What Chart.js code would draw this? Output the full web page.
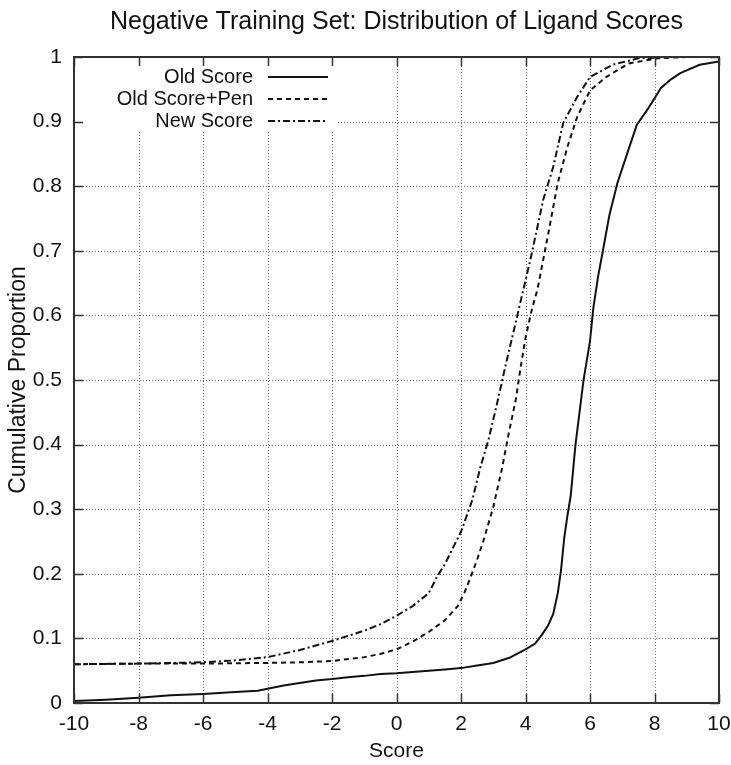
<!DOCTYPE html>
<html>
<head>
<meta charset="utf-8">
<script src="https://cdn.jsdelivr.net/npm/chart.js@4/dist/chart.umd.min.js"></script>
<style>
  html, body { margin: 0; padding: 0; background: #fff; }
  #wrap { width: 731px; height: 765px; position: relative; }
</style>
</head>
<body>
<div id="wrap"><canvas id="c" width="731" height="765"></canvas></div>
<script>
// ---- Data ----
const chartTitle = 'Negative Training Set: Distribution of Ligand Scores';
const xAxisTitle = 'Score';
const yAxisTitle = 'Cumulative Proportion';
const seriesNames = ['Old Score', 'Old Score+Pen', 'New Score'];

const xTickValues = [-10, -8, -6, -4, -2, 0, 2, 4, 6, 8, 10];
const xTickLabels = ['-10', '-8', '-6', '-4', '-2', '0', '2', '4', '6', '8', '10'];
const yTickValues = [0, 0.1, 0.2, 0.3, 0.4, 0.5, 0.6, 0.7, 0.8, 0.9, 1];
const yTickLabels = ['0', '0.1', '0.2', '0.3', '0.4', '0.5', '0.6', '0.7', '0.8', '0.9', '1'];

const oldScoreX = [-10, -9, -8, -7.5, -7, -6, -5, -4.3, -4, -3.5, -3, -2.5, -2, -1.5, -1, -0.5, 0, 0.5, 1, 1.5, 2, 2.5, 3, 3.5, 4, 4.3, 4.5, 4.7, 4.86, 5.0, 5.1, 5.2, 5.3, 5.4, 5.55, 5.7, 5.8, 6.0, 6.1, 6.25, 6.4, 6.6, 6.85, 7.15, 7.45, 7.8, 8.2, 8.5, 8.8, 9.4, 10];
const oldScoreY = [0.003, 0.005, 0.008, 0.010, 0.012, 0.014, 0.017, 0.019, 0.022, 0.027, 0.031, 0.035, 0.037, 0.040, 0.042, 0.045, 0.046, 0.048, 0.050, 0.052, 0.054, 0.058, 0.062, 0.070, 0.083, 0.092, 0.105, 0.120, 0.138, 0.170, 0.205, 0.255, 0.290, 0.320, 0.400, 0.460, 0.500, 0.560, 0.610, 0.660, 0.700, 0.755, 0.805, 0.850, 0.895, 0.920, 0.952, 0.965, 0.975, 0.988, 0.993];

const oldPenX = [-10, -8, -6, -4, -3, -2, -1, -0.5, 0, 0.5, 1, 1.5, 1.9, 2.1, 2.3, 2.5, 2.7, 3.0, 3.28, 3.47, 3.7, 3.85, 4.0, 4.2, 4.37, 4.67, 5.0, 5.3, 5.6, 6.0, 6.5, 7.2, 8.1, 9.0, 10];
const oldPenY = [0.060, 0.061, 0.061, 0.062, 0.063, 0.065, 0.071, 0.076, 0.083, 0.095, 0.110, 0.128, 0.150, 0.170, 0.195, 0.222, 0.252, 0.303, 0.365, 0.415, 0.470, 0.520, 0.565, 0.610, 0.640, 0.717, 0.805, 0.861, 0.907, 0.948, 0.969, 0.990, 0.998, 1.0, 1.0];

const newScoreX = [-10, -8, -6, -5, -4, -3, -2, -1, -0.5, 0, 0.5, 1.0, 1.25, 1.5, 2.0, 2.35, 2.6, 2.85, 3.12, 3.37, 3.62, 3.84, 4.15, 4.55, 4.86, 5.17, 5.6, 6.0, 6.7, 7.5, 8.5, 10];
const newScoreY = [0.060, 0.061, 0.063, 0.066, 0.071, 0.082, 0.096, 0.112, 0.122, 0.135, 0.150, 0.170, 0.195, 0.215, 0.265, 0.314, 0.365, 0.407, 0.464, 0.520, 0.573, 0.620, 0.686, 0.779, 0.830, 0.898, 0.938, 0.969, 0.988, 0.998, 1.0, 1.0];

// ---- Build ----
const FONT = '"Liberation Sans", Arial, Helvetica, sans-serif';
const INK = '#111';
const toPts = (xs, ys) => xs.map((x, i) => ({ x: x, y: ys[i] }));
const dashes = [[], [5, 4], [7, 3, 2, 3]];

const datasets = [
  { label: seriesNames[0], data: toPts(oldScoreX, oldScoreY), borderDash: dashes[0] },
  { label: seriesNames[1], data: toPts(oldPenX, oldPenY), borderDash: dashes[1] },
  { label: seriesNames[2], data: toPts(newScoreX, newScoreY), borderDash: dashes[2] }
].map(d => Object.assign(d, {
  showLine: true, borderColor: INK, borderWidth: 2, pointRadius: 0, pointHoverRadius: 0,
  tension: 0, fill: false
}));

const frame = {
  id: 'frame',
  beforeDatasetsDraw(chart) {
    const { ctx, chartArea: a, scales: { x, y } } = chart;
    ctx.save();
    ctx.strokeStyle = '#6a6a6a';
    ctx.lineWidth = 1;
    ctx.setLineDash([1, 2]);
    xTickValues.forEach(v => {
      const px = Math.round(x.getPixelForValue(v)) + 0.5;
      if (px <= a.left + 2 || px >= a.right - 2) return;
      ctx.beginPath(); ctx.moveTo(px, a.top); ctx.lineTo(px, a.bottom); ctx.stroke();
    });
    yTickValues.forEach(v => {
      const py = Math.round(y.getPixelForValue(v)) + 0.5;
      if (py <= a.top + 2 || py >= a.bottom - 2) return;
      ctx.beginPath(); ctx.moveTo(a.left, py); ctx.lineTo(a.right, py); ctx.stroke();
    });
    ctx.restore();
  },
  afterDatasetsDraw(chart) {
    const { ctx, chartArea: a, scales: { x, y } } = chart;
    ctx.save();
    // legend box (hides grid, like gnuplot key)
    ctx.fillStyle = '#fff';
    ctx.fillRect(a.left + 1, a.top + 1, 262, 74);
    ctx.font = '20px ' + FONT;
    ctx.textAlign = 'right';
    ctx.textBaseline = 'middle';
    ctx.fillStyle = INK;
    datasets.forEach((d, i) => {
      const cy = a.top + 20 + i * 22;
      ctx.fillText(d.label, a.left + 179, cy);
      ctx.strokeStyle = INK;
      ctx.lineWidth = 2;
      ctx.setLineDash(d.borderDash);
      ctx.beginPath(); ctx.moveTo(a.left + 194, cy); ctx.lineTo(a.left + 254, cy); ctx.stroke();
    });
    ctx.setLineDash([]);
    // border
    ctx.strokeStyle = '#333';
    ctx.lineWidth = 2;
    ctx.strokeRect(a.left, a.top, a.right - a.left, a.bottom - a.top);
    // inward ticks on all four sides
    const T = 9;
    ctx.lineWidth = 1.5;
    xTickValues.forEach(v => {
      const px = Math.round(x.getPixelForValue(v)) + 0.5;
      ctx.beginPath(); ctx.moveTo(px, a.bottom); ctx.lineTo(px, a.bottom - T); ctx.stroke();
      ctx.beginPath(); ctx.moveTo(px, a.top); ctx.lineTo(px, a.top + T); ctx.stroke();
    });
    yTickValues.forEach(v => {
      const py = Math.round(y.getPixelForValue(v)) + 0.5;
      ctx.beginPath(); ctx.moveTo(a.left, py); ctx.lineTo(a.left + T, py); ctx.stroke();
      ctx.beginPath(); ctx.moveTo(a.right, py); ctx.lineTo(a.right - T, py); ctx.stroke();
    });
    ctx.restore();
  }
};

new Chart(document.getElementById('c'), {
  type: 'scatter',
  data: { datasets: datasets },
  plugins: [frame],
  options: {
    responsive: false,
    animation: false,
    events: [],
    layout: { padding: { left: 0, right: 12, top: 0, bottom: 0 } },
    plugins: {
      legend: { display: false },
      tooltip: { enabled: false },
      title: {
        display: true, text: chartTitle, color: INK, fullSize: false,
        font: { family: FONT, size: 25, weight: 'normal' },
        padding: { top: 7, bottom: 20 }
      }
    },
    scales: {
      x: {
        type: 'linear', min: -10, max: 10,
        afterBuildTicks: s => { s.ticks = xTickValues.map(v => ({ value: v })); },
        afterFit: s => { s.height = 62; s.paddingLeft = 0; s.paddingRight = 0; },
        grid: { display: false, drawTicks: false },
        border: { display: false },
        ticks: {
          color: INK, padding: 9, maxRotation: 0, autoSkip: false,
          font: { family: FONT, size: 21 },
          callback: (v, i) => xTickLabels[i]
        },
        title: {
          display: true, text: xAxisTitle, color: INK,
          font: { family: FONT, size: 21 }, padding: { top: 0, bottom: 1 }
        }
      },
      y: {
        type: 'linear', min: 0, max: 1,
        afterBuildTicks: s => { s.ticks = yTickValues.map(v => ({ value: v })); },
        afterFit: s => { s.width = 74; s.paddingTop = 0; s.paddingBottom = 0; },
        grid: { display: false, drawTicks: false },
        border: { display: false },
        ticks: {
          color: INK, padding: 12, autoSkip: false,
          font: { family: FONT, size: 21 },
          callback: (v, i) => yTickLabels[i]
        },
        title: {
          display: true, text: yAxisTitle, color: INK,
          font: { family: FONT, size: 23 }, padding: { top: 5, bottom: 0 }
        }
      }
    }
  }
});
</script>
</body>
</html>
